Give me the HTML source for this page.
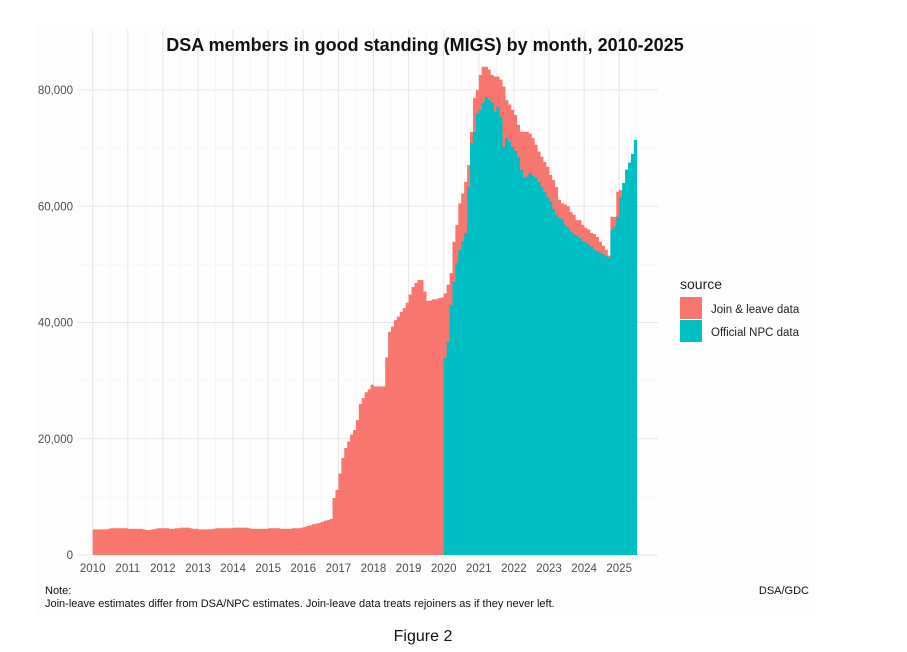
<!DOCTYPE html>
<html><head><meta charset="utf-8"><style>
body{margin:0;background:#fff;width:907px;height:652px;overflow:hidden;font-family:"Liberation Sans",sans-serif}
svg{display:block}
</style></head><body>
<svg id="chart" width="907" height="652">
<rect x="37" y="25" width="778" height="590" fill="#fdfdfd"/>
<g id="grid"></g><g id="bars"></g><g id="axes"></g>
<text x="425" y="51" text-anchor="middle" font-size="18" font-weight="bold" fill="#111">DSA members in good standing (MIGS) by month, 2010-2025</text>
<g>
<text x="680" y="289" font-size="14" fill="#222">source</text>
<rect x="680" y="297" width="22" height="22" fill="#F8766D"/>
<text x="711" y="313" font-size="11.5" fill="#222">Join &amp; leave data</text>
<rect x="680" y="320" width="22" height="22" fill="#00BFC4"/>
<text x="711" y="336" font-size="11.5" fill="#222">Official NPC data</text>
</g>
<text x="45" y="594" font-size="11" fill="#111">Note:</text>
<text x="45" y="607" font-size="11" fill="#111">Join-leave estimates differ from DSA/NPC estimates. Join-leave data treats rejoiners as if they never left.</text>
<text x="809" y="594" text-anchor="end" font-size="11" fill="#111">DSA/GDC</text>
<text x="423" y="641" text-anchor="middle" font-size="16" fill="#111">Figure 2</text>
</svg>
<script>
// Join & leave data, monthly (thousands), Jan 2010 onward
const joinLeave = [
4.4,4.4,4.4,4.4,4.4,4.5,4.6,4.6,4.6,4.6,4.6,4.6,
4.5,4.5,4.5,4.5,4.5,4.4,4.3,4.3,4.4,4.5,4.6,4.6,
4.6,4.6,4.5,4.5,4.6,4.6,4.7,4.7,4.7,4.6,4.5,4.5,
4.4,4.4,4.4,4.4,4.4,4.5,4.6,4.6,4.6,4.6,4.6,4.6,
4.7,4.7,4.7,4.7,4.7,4.6,4.5,4.5,4.5,4.5,4.5,4.5,
4.6,4.6,4.6,4.6,4.5,4.5,4.5,4.5,4.6,4.6,4.6,4.7,
4.8,5.0,5.1,5.3,5.4,5.5,5.7,5.9,6.0,6.2,9.8,11.2,
14,16.7,18.4,19.5,20.7,21.5,23.2,26,27,28,28.5,29.3,
29,29,29,29,34,38.4,39.3,40.4,41,41.8,42.5,43.4,
44.8,46.1,46.8,47.3,47.3,45.3,43.7,43.8,44,44,44.2,44.3,
45,46.5,48.5,53.9,56.8,60.5,62.2,64.2,67.1,72.8,78.6,80,
82.6,84,84,83.5,82.6,82.3,82.3,81.8,80.6,78.3,77.5,76.6,
75.7,74,72.8,72.8,72.8,72.5,71.7,70.6,69.4,68.5,67.6,66.8,
65.4,64.5,63.3,61.1,60.5,60.3,60,59,58.5,57.6,57.6,56.8,
56.3,56,55.4,55.2,54.7,53.9,53.2,52.5,51.5,58.2,58.2,62.5,
62.8];
// Official NPC data, monthly (thousands), starting Jan 2020
const npcStart = 120;
const npc = [
33.9,36.7,43,47,50.2,52.5,54,55.4,63.3,70.9,72.8,76,
76.6,77.8,78.8,78.3,77.8,76.3,77.1,75.4,70.2,71.7,71.1,70.2,
69.5,68.5,66.3,64.9,65.1,65.7,65.3,64.9,64.2,63.3,62.5,61.6,
60.8,59.5,58.5,58,57.7,56.8,56.3,55.6,55.1,55,54.5,53.9,
53.8,53.4,53,52.5,52.3,52,51.7,51.4,51.1,55.9,56.5,58.2,
61.6,64,66.3,67.5,69,71.4];
const yTicks = [0,20000,40000,60000,80000];
const yTickLabels = ["0","20,000","40,000","60,000","80,000"];
const xYears = [2010,2011,2012,2013,2014,2015,2016,2017,2018,2019,2020,2021,2022,2023,2024,2025];

const NS="http://www.w3.org/2000/svg";
const X0=92.7, YEARW=35.1, MW=YEARW/12, Y0=555, YPX=465/80000;
const px = l=>X0+(l-2010)*YEARW;
const xm = k=>X0+k*MW;
const y = v=>Y0-v*YPX;
function mk(tag,attrs,parent){const e=document.createElementNS(NS,tag);for(const k in attrs)e.setAttribute(k,attrs[k]);parent.appendChild(e);return e;}
const grid=document.getElementById('grid'), bars=document.getElementById('bars'), axes=document.getElementById('axes');
const L=77, R=658, T=30, B=555;
for(let v=10000;v<=80000;v+=20000){const l=mk('line',{x1:L,x2:R,y1:y(v),y2:y(v),stroke:'#f2f2f2','stroke-width':0.6},grid);

}
yTicks.forEach((v,i)=>{
 const l=mk('line',{x1:L,x2:R,y1:y(v),y2:y(v),stroke:'#e6e6e6','stroke-width':1.1},grid);
 
 
 const t=mk('text',{x:73,y:y(v)+4,'text-anchor':'end','font-size':11.5,fill:'#4d4d4d'},axes);
 t.textContent=yTickLabels[i];
 
 
});
xYears.forEach(yr=>{
 const x=px(yr);
 const l=mk('line',{x1:x,x2:x,y1:T,y2:B,stroke:'#e6e6e6','stroke-width':1.1},grid);
 
 
 const m=mk('line',{x1:x+YEARW/2,x2:x+YEARW/2,y1:T,y2:B,stroke:'#f2f2f2','stroke-width':0.6},grid);
 
 
 const t=mk('text',{x:x,y:572,'text-anchor':'middle','font-size':11.5,fill:'#4d4d4d'},axes);
 t.textContent=yr;
 
 
});
joinLeave.forEach((v,k)=>{
 const r=mk('rect',{x:xm(k),width:MW+0.3,y:y(v*1000),height:Y0-y(v*1000),fill:'#F8766D'},bars);
 
 
});
npc.forEach((v,i)=>{
 const k=npcStart+i;
 const r=mk('rect',{x:xm(k),width:MW+0.3,y:y(v*1000),height:Y0-y(v*1000),fill:'#00BFC4'},bars);
 
 
});
</script>
</body></html>
